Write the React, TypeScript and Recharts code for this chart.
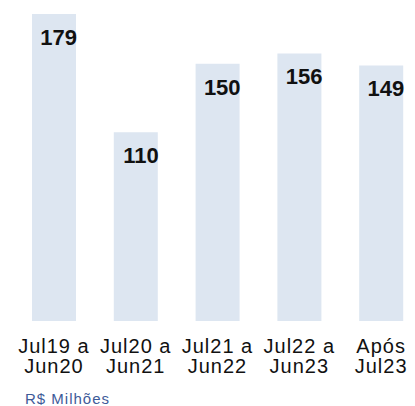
import React from 'react'
import { BarChart, Bar, XAxis, YAxis, LabelList } from 'recharts'

const firstLine = ['Jul19 a', 'Jul20 a', 'Jul21 a', 'Jul22 a', 'Após']
const secondLine = ['Jun20', 'Jun21', 'Jun22', 'Jun23', 'Jul23']
const values = [179, 110, 150, 156, 149]

const data = values.map((v, i) => ({ name: String(i), value: v }))

const PeriodTick = (props: any) => {
    const { x, y, payload } = props
    const i = Number(payload.value)
    return (
        <text
            x={x}
            y={y}
            textAnchor='middle'
            fill='#111'
            fontSize={20}
            letterSpacing={1}
            fontFamily='Liberation Sans, Arial, sans-serif'
        >
            <tspan x={x} dy={24}>
                {firstLine[i]}
            </tspan>
            <tspan x={x} dy={20}>
                {secondLine[i]}
            </tspan>
        </text>
    )
}

const ValueLabel = (props: any) => {
    const { x, y, width, value } = props
    return (
        <text
            x={x + width + 1}
            y={y + 31}
            textAnchor='end'
            fill='#111'
            fontSize={22}
            fontWeight='bold'
            fontFamily='Liberation Sans, Arial, sans-serif'
        >
            {value}
        </text>
    )
}

const App: React.FC = () => {
    return (
        <div
            style={{
                position: 'absolute',
                left: 0,
                top: 0,
                width: 415,
                height: 406,
                overflow: 'hidden',
                background: '#fff',
            }}
        >
            <BarChart
                width={422}
                height={406}
                data={data}
                margin={{ top: 14, right: 0, left: 13, bottom: 0 }}
                barSize={44}
            >
                <XAxis
                    dataKey='name'
                    axisLine={false}
                    tickLine={false}
                    height={85}
                    interval={0}
                    tick={<PeriodTick />}
                />
                <YAxis hide domain={[0, 179]} />
                <Bar dataKey='value' fill='#dde6f1' isAnimationActive={false}>
                    <LabelList dataKey='value' content={<ValueLabel />} />
                </Bar>
            </BarChart>
            <div
                style={{
                    position: 'absolute',
                    left: 25,
                    top: 391,
                    fontSize: 15,
                    lineHeight: '16px',
                    letterSpacing: 1,
                    color: '#3d5a99',
                    fontFamily: 'Liberation Sans, Arial, sans-serif',
                    whiteSpace: 'nowrap',
                }}
            >
                R$ Milhões
            </div>
        </div>
    )
}

export default App
